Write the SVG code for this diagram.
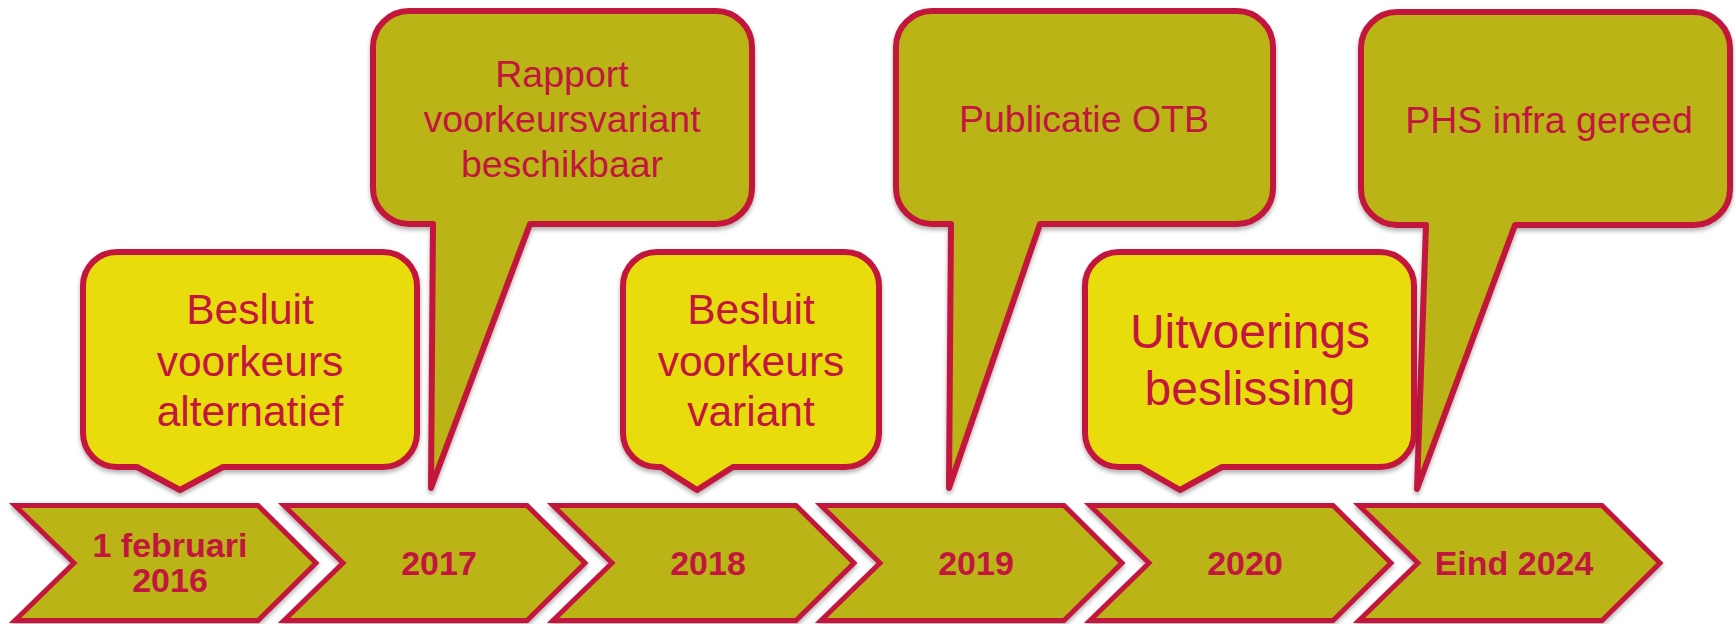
<svg xmlns="http://www.w3.org/2000/svg" width="1735" height="624" viewBox="0 0 1735 624">
<defs>
<filter id="sh" x="-5%" y="-5%" width="110%" height="115%">
<feDropShadow dx="0" dy="3" stdDeviation="2" flood-color="#000" flood-opacity="0.3"/>
</filter>
<style>
.chev{fill:#BAB416;stroke:#C2163E;stroke-width:5;stroke-linejoin:miter;filter:url(#sh)}
.big{fill:#BAB416;stroke:#C2163E;stroke-width:6;stroke-linejoin:round;filter:url(#sh)}
.yel{fill:#E8DC10;stroke:#C2163E;stroke-width:6;stroke-linejoin:round;filter:url(#sh)}
text{fill:#C2163E;font-family:"Liberation Sans",Arial,sans-serif;text-anchor:middle}
.ct{font-size:34px;font-weight:bold}
.bt{font-size:37.5px}
.yt{font-size:42.5px}
.ut{font-size:48px}
</style>
</defs>
<g id="connectors"></g>
<g id="chevron-2016">
<path class="chev" d="M15,505.5 H258 L316,563 L258,620.5 H15 L74,563 Z"/>
<text class="ct" x="170" y="557">1 februari</text>
<text class="ct" x="170" y="592">2016</text>
</g>
<g id="chevron-2017">
<path class="chev" d="M284,505.5 H527 L585,563 L527,620.5 H284 L343,563 Z"/>
<text class="ct" x="439" y="575">2017</text>
</g>
<g id="chevron-2018">
<path class="chev" d="M553,505.5 H796 L854,563 L796,620.5 H553 L612,563 Z"/>
<text class="ct" x="708" y="575">2018</text>
</g>
<g id="chevron-2019">
<path class="chev" d="M821,505.5 H1064 L1122,563 L1064,620.5 H821 L880,563 Z"/>
<text class="ct" x="976" y="575">2019</text>
</g>
<g id="chevron-2020">
<path class="chev" d="M1090,505.5 H1333 L1391,563 L1333,620.5 H1090 L1149,563 Z"/>
<text class="ct" x="1245" y="575">2020</text>
</g>
<g id="chevron-2024">
<path class="chev" d="M1359,505.5 H1602 L1660,563 L1602,620.5 H1359 L1418,563 Z"/>
<text class="ct" x="1514" y="575">Eind 2024</text>
</g>
<g id="callout-rapport">
<path class="big" d="M409,11 H716 A36,36 0 0 1 752,47 V188 A36,36 0 0 1 716,224 H530 L431,488 L433,224 H409 A36,36 0 0 1 373,188 V47 A36,36 0 0 1 409,11 Z"/>
<text class="bt" x="562" y="87">Rapport</text>
<text class="bt" x="562" y="132">voorkeursvariant</text>
<text class="bt" x="562" y="177">beschikbaar</text>
</g>
<g id="callout-otb">
<path class="big" d="M932,11 H1237 A36,36 0 0 1 1273,47 V188 A36,36 0 0 1 1237,224 H1040 L949,488 L951,224 H932 A36,36 0 0 1 896,188 V47 A36,36 0 0 1 932,11 Z"/>
<text class="bt" x="1084" y="132">Publicatie OTB</text>
</g>
<g id="callout-phs">
<path class="big" d="M1397,12 H1694 A36,36 0 0 1 1730,48 V189 A36,36 0 0 1 1694,225 H1515 L1417,489 L1426,225 H1397 A36,36 0 0 1 1361,189 V48 A36,36 0 0 1 1397,12 Z"/>
<text class="bt" x="1549" y="133">PHS infra gereed</text>
</g>
<g id="callout-besluit-alternatief">
<path class="yel" d="M117,252 H383 A34,34 0 0 1 417,286 V433 A34,34 0 0 1 383,467 H223 L180,490 L137,467 H117 A34,34 0 0 1 83,433 V286 A34,34 0 0 1 117,252 Z"/>
<text class="yt" x="250" y="324">Besluit</text>
<text class="yt" x="250" y="376">voorkeurs</text>
<text class="yt" x="250" y="426">alternatief</text>
</g>
<g id="callout-besluit-variant">
<path class="yel" d="M657,252 H845 A34,34 0 0 1 879,286 V433 A34,34 0 0 1 845,467 H733 L697,490 L661,467 H657 A34,34 0 0 1 623,433 V286 A34,34 0 0 1 657,252 Z"/>
<text class="yt" x="751" y="324">Besluit</text>
<text class="yt" x="751" y="376">voorkeurs</text>
<text class="yt" x="751" y="426">variant</text>
</g>
<g id="callout-uitvoering">
<path class="yel" d="M1119,252 H1380 A34,34 0 0 1 1414,286 V433 A34,34 0 0 1 1380,467 H1222 L1180,490 L1140,467 H1119 A34,34 0 0 1 1085,433 V286 A34,34 0 0 1 1119,252 Z"/>
<text class="ut" x="1250" y="348">Uitvoerings</text>
<text class="ut" x="1250" y="405">beslissing</text>
</g>
</svg>
